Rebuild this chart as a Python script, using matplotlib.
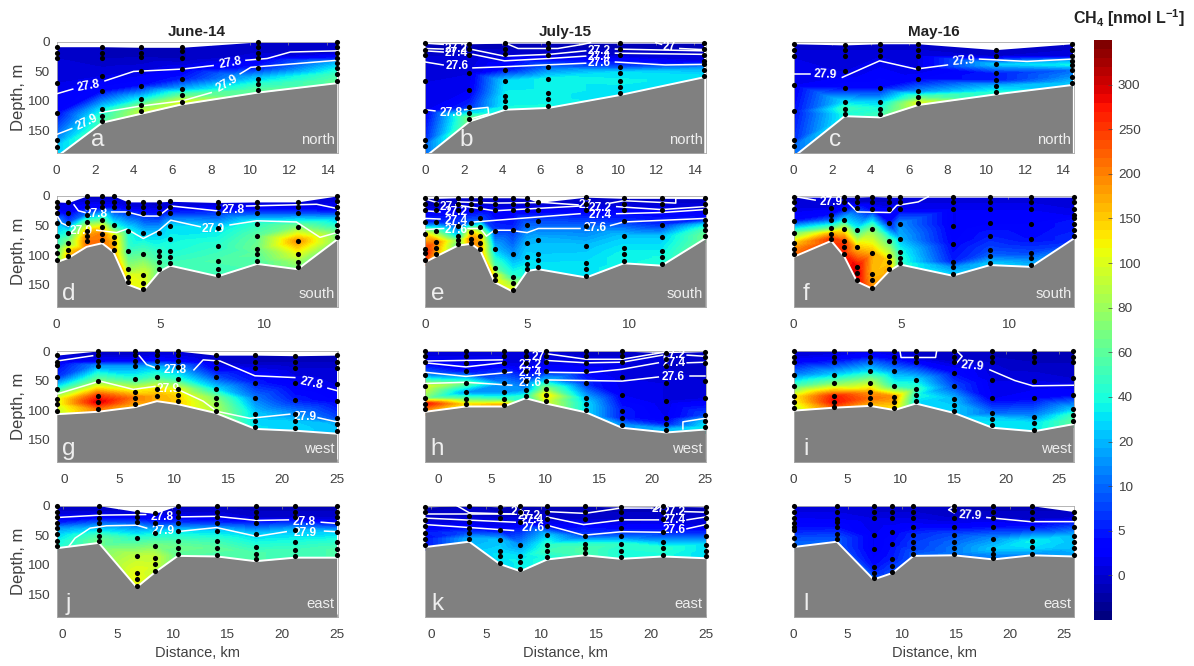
import matplotlib

matplotlib.use("Agg")
import matplotlib.pyplot as plt
import matplotlib.tri as mtri
import numpy as np

plt.rcParams["font.family"] = ["Liberation Sans", "DejaVu Sans"]
plt.rcParams["mathtext.fontset"] = "custom"
plt.rcParams["mathtext.bf"] = "Liberation Sans:bold"
plt.rcParams["mathtext.rm"] = "Liberation Sans"

W, H = 1194, 666
TXT = "#404040"

# colourbar ticks are evenly spaced on a stretched scale
CBAR_TICKS = [-5, 0, 5, 10, 20, 40, 60, 80, 100, 150, 200, 250, 300, 350]
CBAR_LABELS = ["", "0", "5", "10", "20", "40", "60", "80", "100", "150", "200", "250", "300", ""]

MONTHS = ["June-14", "July-15", "May-16"]
SECTIONS = ["north", "south", "west", "east"]

# --- a
A_X = [0, 2.36, 4.36, 6.47, 10.4, 14.5]
A_BOTTOM = [195, 137, 122, 106, 86, 70]
A_DEPTH = [
    [8, 18, 27, 70, 120, 167, 178],
    [8, 18, 27, 57, 84, 113, 125, 135],
    [9, 18, 26, 50, 74, 97, 107, 118],
    [9, 16, 28, 46, 63, 79, 90, 102],
    [0, 8, 18, 27, 44, 62, 72, 82],
    [0, 8, 18, 28, 36, 45, 55, 66],
]
A_CH4 = [
    [0, 0, 0, 1, 3, 15, 25],
    [-1, -1, -1, 1, 4, 30, 45, 55],
    [-1, -1, -1, 1, 4, 35, 65, 90],
    [-1, -1, -1, 2, 5, 18, 60, 100],
    [0, 0, 0, 1, 5, 25, 45, 60],
    [0, 0, 0, 5, 20, 35, 50, 60],
]
A_ISO = [
    ([0, 0.83], [88, 80]),
    ([2.5, 3.98, 6.5, 8.1], [66, 50, 46, 40]),
    ([9.8, 10.9, 12.1, 14.55], [31, 28, 17, 15]),
    ([0, 0.78], [157, 147]),
    ([2.25, 4.3, 6.5, 8.0], [120, 109, 100, 86]),
    ([9.5, 10.05, 14.55], [54, 43, 31]),
]
A_LABELS = [("27.8", 1.66, 74, 10), ("27.8", 9.0, 36, 10), ("27.9", 1.55, 136, 25), ("27.9", 8.85, 70, 30)]

# --- b
B_X = [0, 2.3, 4.17, 6.4, 10.15, 14.5]
B_BOTTOM = [195, 135, 115, 112, 90, 60]
B_DEPTH = [
    [2, 14, 22, 67, 117, 166, 176],
    [3, 12, 22, 53, 81, 111, 120, 130],
    [2, 12, 21, 47, 67, 91, 101, 111],
    [2, 11, 22, 43, 62, 87, 97, 108],
    [2, 12, 22, 42, 52, 67, 77, 87],
    [2, 12, 22, 32, 38, 47, 57],
]
B_CH4 = [
    [-1, -1, 0, 1, 2, 6, 10],
    [-1, -1, 0, 1, 2, 6, 30, 70],
    [-1, -1, 0, 4, 30, 35, 35, 38],
    [-1, -1, 0, 10, 35, 35, 35, 38],
    [-1, -1, 0, 8, 30, 35, 32, 30],
    [-1, -1, 0, 1, 8, 20, 30],
]
B_ISO = [
    ([0, 0.93], [2, 4]),
    ([2.48, 4.1, 4.83, 6.9, 8.2, 8.6], [1, 1, 11, 11, 4, 1]),
    ([12, 12.3], [1, 4]),
    ([13.25, 14.5], [11, 13]),
    ([0, 0.93], [11, 12]),
    ([2.48, 4.12, 6.45, 8.35], [13, 24, 21, 15]),
    ([9.9, 14.5], [12, 15]),
    ([0, 0.93], [15, 17]),
    ([2.48, 4.12, 6.45, 8.35], [21, 32, 28, 24]),
    ([9.9, 14.5], [19, 21]),
    ([0, 0.93], [34, 39]),
    ([2.48, 4.12, 8.35], [44, 42, 36]),
    ([9.9, 12.5, 14.5], [34, 39, 38]),
    ([0, 0.5], [115, 117]),
    ([2.05, 3.26, 3.3, 2.4], [115, 111, 122, 130]),
]
B_LABELS = [
    ("27.2", 1.6, 12, 0), ("27.4", 1.62, 19, 0), ("27.6", 1.66, 40, 0), ("27.8", 1.35, 120, 0),
    ("27.2", 9.03, 15, 0), ("27.4", 9.03, 25, 0), ("27.6", 9.07, 36, 0), ("27", 12.7, 8, 0),
]

# --- c
C_X = [0, 2.65, 4.48, 6.48, 10.5, 14.5]
C_BOTTOM = [195, 126, 128, 107, 89, 73]
C_DEPTH = [
    [3, 13, 24, 73, 118, 167, 177],
    [5, 13, 24, 49, 78, 102, 113, 123],
    [3, 13, 24, 78, 102, 113, 123],
    [3, 13, 24, 44, 63, 84, 94, 103],
    [13, 24, 38, 53, 65, 75, 85],
    [3, 13, 24, 33, 39, 48, 59, 70],
]
C_CH4 = [
    [0, 0, 1, 2, 4, 6, 10],
    [0, 0, 1, 1, 4, 30, 50, 40],
    [0, 0, 1, 4, 25, 40, 50],
    [0, 0, 1, 1, 3, 15, 60, 100],
    [0, 0, 25, 5, 5, 20, 40],
    [0, 0, 1, 20, 35, 10, 15, 25],
]
C_ISO = [
    ([0, 0.84], [54, 54]),
    ([2.53, 4.47, 6.36, 8.0], [60, 32, 46, 39]),
    ([9.67, 12.14, 14.5], [29, 33, 29]),
]
C_LABELS = [("27.9", 1.67, 56, -3), ("27.9", 8.86, 33, 5)]

# --- d
D_X = [0, 0.56, 1.45, 2.2, 2.75, 3.45, 4.2, 4.97, 5.5, 7.8, 9.7, 11.66, 13.56]
D_BOTTOM = [112, 105, 86, 80, 95, 150, 160, 128, 118, 136, 115, 124, 74]
D_DEPTH = [
    [10, 19, 28, 45, 67, 85, 97, 108],
    [11, 28, 45, 63, 79, 92, 102],
    [0, 10, 19, 32, 44, 59, 68, 77],
    [0, 10, 19, 41, 53, 64, 75],
    [0, 10, 19, 49, 69, 79, 92],
    [10, 19, 28, 60, 93, 124, 137, 146],
    [10, 19, 28, 63, 99, 134, 147, 158],
    [10, 19, 28, 63, 93, 102, 112, 124],
    [9, 19, 29, 51, 72, 93, 104, 113],
    [11, 19, 28, 55, 84, 110, 123, 134],
    [10, 19, 29, 47, 68, 89, 98, 110],
    [10, 19, 29, 52, 76, 99, 111, 121],
    [0, 9, 19, 28, 38, 49, 59, 70],
]
D_CH4 = [
    [0, 1, 3, 18, 35, 50, 60, 65],
    [1, 2, 8, 40, 70, 130, 160],
    [-1, 1, 3, 12, 60, 150, 190, 210],
    [-1, 1, 3, 60, 130, 200, 210],
    [-1, 1, 4, 40, 130, 170, 180],
    [0, 1, 6, 40, 50, 80, 110, 120],
    [0, 1, 4, 25, 60, 100, 105, 110],
    [0, 0, 3, 25, 45, 50, 55, 60],
    [0, 1, 6, 30, 35, 40, 45, 50],
    [0, 2, 6, 30, 45, 55, 50, 50],
    [0, 2, 8, 45, 60, 65, 60, 55],
    [0, 2, 8, 70, 190, 100, 80, 70],
    [0, 1, 2, 6, 20, 40, 60, 70],
]
D_ISO = [
    ([0.84, 1.05, 1.37], [15, 25, 28]),
    ([2.66, 3.39, 4.19, 4.92, 5.56, 7.74], [27, 27, 34, 34, 17, 25]),
    ([9.19, 12.58, 13.56], [17, 14, 21]),
    ([0, 0.24, 0.56], [32, 46, 51]),
    ([1.94, 2.9, 3.39, 4.19, 4.92, 5.52, 6.94], [58, 62, 56, 72, 59, 41, 52]),
    ([8.39, 9.68, 11.6, 12.74, 13.56], [49, 42, 44, 70, 62]),
]
D_LABELS = [("27.8", 1.89, 30, 0), ("27.8", 8.55, 24, 0), ("27.9", 1.19, 59, 0), ("27.9", 7.58, 56, 0)]

# --- e
E_X = [0, 0.55, 1.6, 2.25, 2.7, 3.4, 4.3, 5, 5.55, 7.9, 9.75, 11.6, 13.75]
E_BOTTOM = [112, 102, 84, 81, 92, 146, 162, 127, 124, 138, 114, 118, 72]
E_DEPTH = [
    [4, 13, 24, 44, 64, 89, 96, 109],
    [4, 13, 24, 44, 59, 78, 88, 99],
    [3, 13, 24, 51, 68, 75, 82],
    [3, 13, 24, 45, 61, 72, 79],
    [3, 11, 21, 38, 52, 68, 79, 89],
    [3, 13, 24, 59, 89, 122, 134, 143],
    [3, 13, 24, 57, 99, 137, 148, 159],
    [4, 13, 24, 49, 79, 103, 115, 124],
    [11, 24, 42, 74, 98, 108, 121],
    [2, 13, 24, 51, 84, 113, 123, 136],
    [4, 13, 24, 42, 68, 88, 99, 110],
    [4, 13, 24, 49, 69, 93, 104, 115],
    [4, 13, 24, 27, 40, 49, 58, 68],
]
E_CH4 = [
    [-1, -1, 2, 5, 120, 250, 280, 240],
    [-1, -1, 2, 6, 60, 200, 180, 160],
    [-1, 0, 2, 8, 30, 70, 60],
    [-1, 0, 2, 10, 130, 200, 200],
    [-1, 0, 2, 8, 50, 140, 170, 180],
    [-1, 0, 2, 7, 22, 60, 110, 130],
    [-1, 0, 2, 6, 15, 45, 80, 110],
    [-1, 0, 2, 10, 20, 28, 32, 34],
    [0, 2, 8, 20, 25, 28, 32],
    [-1, 0, 2, 10, 22, 30, 32, 32],
    [-1, 0, 2, 6, 24, 32, 36, 36],
    [-1, 0, 2, 6, 24, 34, 38, 40],
    [-1, 0, 1, 2, 5, 30, 55, 65],
]
E_ISO = [
    ([0, 0.64], [5, 12]),
    ([1.6, 3.5, 5.8, 7.5], [10, 12, 11, 15]),
    ([9.1, 9.75, 12.3, 12.3, 13.75], [12, 8, 12, 4, 4]),
    ([0, 0.72], [25, 27]),
    ([1.5, 3.4, 7.6], [15, 25, 17]),
    ([9.4, 11.6, 13.75], [18, 23, 18]),
    ([0, 0.72], [38, 39]),
    ([2.4, 7.6], [44, 30]),
    ([9.4, 11.6, 13.75], [30, 28, 23]),
    ([0, 0.9], [57, 55]),
    ([2.1, 2.7, 3.0, 3.4, 4.16, 5, 5.55, 7.6], [55, 55, 68, 58, 58, 62, 55, 55]),
    ([9.1, 9.75, 13.75], [50, 44, 38]),
]
E_LABELS = [
    ("27", 1.05, 18, 0), ("27.2", 1.5, 27, 0), ("27.4", 1.5, 42, 0), ("27.6", 1.5, 58, 0),
    ("27", 7.85, 16, 0), ("27.2", 8.6, 20, 0), ("27.4", 8.6, 33, 0), ("27.6", 8.35, 54, 0),
]

# --- f
F_X = [0, 1.75, 2.35, 2.95, 3.66, 4.45, 4.95, 7.4, 9.15, 11.05, 13.05]
F_BOTTOM = [103, 76, 102, 145, 157, 127, 116, 135, 117, 120, 72]
F_SURFACE = [2, 2, 2, 2, 1, 2, 2, 2, 2, 2, 2]
F_DEPTH = [
    [2, 11, 22, 42, 62, 80, 89, 99],
    [20, 32, 41, 54, 64, 73],
    [2, 11, 22, 41, 56, 77, 87, 99],
    [2, 11, 20, 57, 87, 120, 131, 142],
    [1, 11, 22, 56, 97, 132, 142, 155],
    [2, 11, 22, 46, 77, 102, 112, 124],
    [2, 11, 22, 47, 72, 94, 105, 113],
    [2, 11, 22, 50, 81, 111, 121, 132],
    [2, 11, 22, 46, 67, 92, 102, 114],
    [2, 11, 22, 47, 73, 97, 105, 117],
    [2, 11, 22, 32, 38, 47, 58, 67],
]
F_CH4 = [
    [-1, 0, 1, 4, 60, 150, 190, 210],
    [1, 4, 10, 60, 170, 250],
    [0, 0, 3, 30, 100, 240, 260, 260],
    [0, 0, 6, 40, 150, 290, 300, 290],
    [0, 0, 3, 70, 170, 160, 170, 190],
    [0, 0, 2, 4, 60, 100, 150, 170],
    [0, 1, 2, 15, 20, 40, 45, 45],
    [0, 1, 2, 2, 3, 5, 15, 25],
    [0, 1, 2, 3, 5, 8, 10, 25],
    [0, 1, 2, 3, 4, 8, 12, 20],
    [0, 0, 1, 2, 4, 5, 5, 6],
]
F_ISO = [
    ([0.22, 1.0], [2, 7]),
    ([2.55, 2.97, 4.49, 4.8, 5.8, 6.27], [12, 27, 28, 16, 10, 1]),
]
F_LABELS = [("27.9", 1.74, 10, 0)]

# --- g
G_X = [-0.7, 3.05, 6.5, 8.5, 10.4, 13.9, 17.55, 21.2, 25]
G_BOTTOM = [107, 103, 95, 85, 90, 105, 132, 135, 140]
G_DEPTH = [
    [7, 19, 24, 44, 64, 81, 90, 102],
    [0, 7, 17, 25, 51, 76, 86, 98],
    [0, 7, 17, 25, 48, 69, 79, 90],
    [0, 7, 17, 27, 44, 65, 76],
    [0, 7, 17, 27, 48, 65, 75, 85],
    [7, 19, 28, 44, 64, 79, 89, 101],
    [7, 19, 28, 54, 80, 106, 118, 128],
    [8, 19, 28, 55, 83, 107, 119, 131],
    [7, 19, 28, 56, 85, 114, 124, 136],
]
G_CH4 = [
    [0, 1, 3, 6, 40, 100, 100, 90],
    [0, 0, 2, 15, 70, 250, 300, 210],
    [-1, 0, 3, 15, 45, 130, 200, 170],
    [0, 1, 4, 20, 50, 130, 170],
    [0, 1, 3, 15, 45, 110, 140, 150],
    [-1, 0, 2, 8, 30, 70, 80, 85],
    [-1, -1, 1, 5, 12, 25, 28, 30],
    [-1, -1, 0, 2, 5, 15, 25, 28],
    [-1, -1, 0, 1, 3, 8, 20, 22],
]
G_ISO = [
    ([-0.7, 2.6], [17, 8]),
    ([6.88, 7.55, 8.62], [8, 23, 30]),
    ([11.9, 12.75, 14.3, 17.5, 21.16], [32, 15, 17, 42, 45]),
    ([24.2, 25], [63, 67]),
    ([-0.7, 3.27, 6.33, 8.32], [73, 51, 65, 60]),
    ([10.76, 12.75, 13.97, 17.03, 20.7], [68, 85, 102, 114, 107]),
    ([23.3, 25], [113, 120]),
]
G_LABELS = [("27.8", 10.15, 32, 0), ("27.8", 22.7, 55, -12), ("27.9", 9.5, 64, 0), ("27.9", 22.1, 112, 0)]

# --- h
H_X = [-1.2, 2.6, 6.15, 8.2, 10.1, 13.85, 17.2, 21.35, 25]
H_BOTTOM = [103, 94, 94, 80, 89, 104, 130, 138, 133]
H_DEPTH = [
    [0, 9, 19, 40, 60, 80, 89, 99],
    [0, 9, 20, 34, 55, 70, 81, 90],
    [0, 9, 20, 34, 55, 70, 81, 91],
    [0, 9, 20, 34, 50, 66, 76],
    [0, 9, 19, 34, 50, 65, 75, 85],
    [0, 9, 20, 34, 55, 80, 89, 100],
    [0, 9, 19, 44, 74, 101, 114, 125],
    [3, 13, 26, 54, 85, 114, 124, 133],
    [1, 11, 20, 51, 80, 109, 119, 129],
]
H_CH4 = [
    [0, 1, 2, 12, 100, 70, 280, 200],
    [0, 1, 2, 4, 60, 15, 60, 130],
    [0, 1, 1, 6, 15, 15, 50, 170],
    [0, 1, 1, 3, 8, 15, 40],
    [0, 1, 1, 4, 25, 80, 140, 100],
    [0, 0, 1, 3, 6, 20, 30, 30],
    [0, 0, 1, 1, 2, 5, 5, 15],
    [0, 0, 0, 1, 1, 2, 5, 20],
    [0, 0, 0, 0, 1, 8, 25, 35],
]
H_ISO = [
    ([-1.2, 6], [17, 15]),
    ([10.3, 13.85, 17.2, 21.2], [5, 14, 14, 2]),
    ([-1.2, 2.6, 6], [20, 27, 20]),
    ([10.1, 13.85, 17.2, 21.0], [16, 20, 19, 7]),
    ([23.3, 25], [7, 9]),
    ([-1.2, 2.6, 6.9], [36, 43, 36]),
    ([10.1, 13.85, 17.2, 20.6], [36, 37, 31, 20]),
    ([23.3, 25], [20, 19]),
    ([-1.2, 2.6, 6.9], [55, 53, 58]),
    ([10.1, 17.2, 20.6], [49, 51, 44]),
    ([23.6, 25], [42, 42]),
    ([22.9, 22.9, 25], [132, 120, 114]),
]
H_LABELS = [
    ("27", 9.4, 11, 0), ("27.2", 8.65, 23, 0), ("27.4", 8.65, 37, 0), ("27.6", 8.65, 54, 0),
    ("27.2", 22.1, 6, 0), ("27.4", 22.1, 21, 0), ("27.6", 22.0, 44, 0),
]

# --- i
I_X = [0, 3.8, 7.18, 9.47, 11.5, 15.1, 18.7, 22.6, 26.3]
I_BOTTOM = [101, 96, 93, 100, 89, 105, 130, 136, 124]
I_DEPTH = [
    [0, 10, 19, 40, 60, 77, 86, 97],
    [0, 10, 19, 40, 55, 77, 86, 95],
    [0, 10, 19, 34, 55, 70, 80, 89],
    [0, 10, 19, 34, 59, 78, 86, 97],
    [0, 10, 19, 49, 65, 74, 85],
    [0, 10, 19, 38, 60, 81, 92, 101],
    [0, 10, 19, 49, 80, 105, 115, 126],
    [0, 10, 19, 50, 80, 111, 122, 133],
    [0, 10, 19, 46, 74, 99, 109, 119],
]
I_CH4 = [
    [0, 1, 3, 12, 55, 120, 110, 90],
    [0, 2, 5, 25, 70, 270, 280, 230],
    [1, 4, 10, 30, 90, 180, 210, 170],
    [0, 2, 6, 15, 45, 190, 170, 130],
    [0, 0, 3, 30, 50, 40, 30],
    [0, 0, 0, 4, 8, 20, 25, 25],
    [-1, -1, 0, 1, 2, 10, 28, 32],
    [-1, -1, -1, 1, 3, 15, 30, 32],
    [-1, -1, -1, 0, 3, 25, 50, 60],
]
I_ISO = [
    ([10, 10.1, 13.35, 13.45], [0, 11, 11, 0]),
    ([15.4, 15.85, 15.3], [1, 9, 21]),
    ([18.46, 20.8, 22.5, 26.4], [32, 50, 59, 58]),
]
I_LABELS = [("27.9", 16.85, 26, -5)]

# --- j
J_X = [-0.55, 3.3, 6.75, 8.4, 10.5, 14.1, 17.6, 21.2, 25]
J_BOTTOM = [72, 63, 138, 113, 85, 86, 94, 88, 88]
J_DEPTH = [
    [0, 10, 19, 29, 38, 48, 60, 69],
    [0, 10, 20, 30, 41, 51, 59],
    [10, 19, 28, 55, 85, 114, 124, 136],
    [13, 29, 47, 68, 89, 99, 110],
    [0, 10, 19, 29, 43, 60, 71, 82],
    [0, 10, 19, 29, 43, 60, 72, 84],
    [0, 10, 19, 29, 48, 70, 81, 91],
    [0, 10, 19, 41, 61, 75, 85],
    [0, 10, 19, 29, 45, 62, 74, 84],
]
J_CH4 = [
    [-1, 0, 2, 5, 15, 25, 35, 40],
    [-1, 0, 3, 10, 30, 55, 65],
    [0, 2, 8, 45, 90, 110, 115, 110],
    [1, 6, 35, 70, 95, 95, 90],
    [-1, 0, 2, 7, 30, 55, 65, 60],
    [-1, 0, 1, 6, 28, 50, 60, 55],
    [-1, -1, 0, 5, 25, 45, 55, 55],
    [-1, -1, 0, 20, 40, 50, 50],
    [-1, -1, 0, 3, 25, 45, 55, 55],
]
J_ISO = [
    ([-0.55, 3.4, 7.57], [20, 16, 15]),
    ([10.55, 14.04, 17.7, 20.6], [19, 18, 25, 24]),
    ([23.6, 25], [28, 30]),
    ([0.6, 1.12, 2.5, 4, 6.75, 7.66], [68, 55, 38, 34, 33, 38]),
    ([10.4, 14.04, 17.7, 20.4], [44, 37, 52, 44]),
    ([23.9, 25], [43, 44]),
]
J_LABELS = [("27.8", 9.1, 19, 0), ("27.8", 22.0, 27, 0), ("27.9", 9.18, 43, 0), ("27.9", 22.15, 46, 0)]

# --- k
K_X = [-0.5, 3.5, 6.3, 8.15, 10.6, 14, 17.3, 21.1, 25]
K_BOTTOM = [70, 61, 99, 111, 91, 84, 90, 86, 89]
K_DEPTH = [
    [2, 11, 25, 35, 46, 56, 67],
    [0, 18, 28, 38, 46, 57],
    [2, 10, 21, 41, 58, 76, 86, 97],
    [0, 11, 27, 66, 86, 96, 108],
    [1, 11, 23, 35, 50, 66, 76, 87],
    [1, 11, 23, 51, 65, 72, 80],
    [2, 11, 23, 37, 52, 65, 76, 87],
    [1, 10, 22, 44, 62, 72, 83],
    [2, 11, 21, 35, 51, 66, 77, 86],
]
K_CH4 = [
    [-1, -1, 0, 2, 5, 4, 4],
    [-1, 0, 1, 4, 8, 20],
    [-1, -1, 0, 3, 22, 28, 32, 30],
    [-1, -1, 1, 15, 30, 35, 35],
    [-1, -1, 0, 3, 25, 45, 50, 40],
    [-1, -1, 0, 8, 45, 55, 55],
    [-1, -1, 0, 3, 10, 45, 40, 40],
    [-1, -1, 0, 5, 20, 45, 40],
    [-1, -1, 0, 1, 8, 30, 30, 30],
]
K_ISO = [
    ([2.37, 3.5, 7.2], [0, 12, 14]),
    ([20.4, 21], [7, 0]),
    ([-0.5, 7.6], [14, 14]),
    ([10.55, 14, 17.3, 20.2], [10, 13, 4, 4]),
    ([23.1, 25], [10, 11]),
    ([-0.5, 7.68], [21, 28]),
    ([10.55, 13.9, 17.4, 20.7], [19, 32, 24, 24]),
    ([23.3, 25], [24, 19]),
    ([-0.5, 7.52], [32, 42]),
    ([10.55, 13.9, 17.4, 20.9], [33, 50, 44, 45]),
    ([23.3, 25], [39, 32]),
]
K_LABELS = [
    ("27", 7.9, 10, 0), ("27.2", 8.98, 18, 0), ("27.4", 9.2, 25, 0), ("27.6", 9.3, 38, 0),
    ("27", 20.7, 5, 0), ("27.2", 22.1, 11, 0), ("27.4", 22.1, 25, 0), ("27.6", 22.15, 42, 0),
]

# --- l
L_X = [0, 4, 7.4, 9.15, 11.1, 14.85, 18.5, 22.05, 26]
L_BOTTOM = [70, 61, 125, 114, 85, 84, 91, 84, 86]
L_DEPTH = [
    [0, 10, 20, 30, 36, 42, 54, 66],
    [0, 10, 23, 28, 36, 48, 57],
    [0, 10, 21, 50, 74, 103, 114, 123],
    [0, 10, 21, 45, 65, 90, 102, 112],
    [0, 10, 21, 36, 49, 62, 72, 82],
    [0, 8, 21, 36, 49, 62, 72, 81],
    [0, 10, 20, 36, 56, 73, 82, 89],
    [0, 10, 23, 38, 60, 70, 82],
    [10, 20, 36, 51, 62, 72, 83],
]
L_CH4 = [
    [0, 1, 2, 3, 4, 5, 8, 10],
    [0, 1, 2, 3, 4, 7, 9],
    [0, 0, 1, 2, 2, 4, 6, 10],
    [0, 0, 1, 3, 4, 5, 7, 8],
    [0, 0, 1, 3, 6, 7, 7, 9],
    [-1, -1, 0, 3, 8, 10, 12, 12],
    [-1, -1, 0, 4, 15, 25, 15, 12],
    [-1, -1, 0, 5, 35, 30, 15],
    [-1, 0, 8, 20, 22, 20, 18],
]
L_ISO = [
    ([14.9, 14.35, 14.86], [0, 7, 12]),
    ([17.9, 21.9, 26], [20, 27, 27]),
]
L_LABELS = [("27.9", 16.35, 16, -3)]

# axes layout, pixels
COL_LEFT = [56.7, 425.3, 793.7]
COL_RIGHT = [337.7, 705.7, 1074.3]
ROW_TOP = [42, 196, 351, 505.7]
ROW_BOTTOM = [152.7, 307, 462, 616.7]
YMAX = 188

PANELS = [
    ("a", 0, 0, (0, 14.55), 2, A_X, A_BOTTOM, A_DEPTH, A_CH4, A_ISO, A_LABELS),
    ("b", 0, 1, (0, 14.6), 2, B_X, B_BOTTOM, B_DEPTH, B_CH4, B_ISO, B_LABELS),
    ("c", 0, 2, (0, 14.6), 2, C_X, C_BOTTOM, C_DEPTH, C_CH4, C_ISO, C_LABELS),
    ("d", 1, 0, (0, 13.6), 5, D_X, D_BOTTOM, D_DEPTH, D_CH4, D_ISO, D_LABELS),
    ("e", 1, 1, (0, 13.77), 5, E_X, E_BOTTOM, E_DEPTH, E_CH4, E_ISO, E_LABELS),
    ("f", 1, 2, (0, 13.07), 5, F_X, F_BOTTOM, F_DEPTH, F_CH4, F_ISO, F_LABELS),
    ("g", 2, 0, (-0.7, 25.1), 5, G_X, G_BOTTOM, G_DEPTH, G_CH4, G_ISO, G_LABELS),
    ("h", 2, 1, (-1.18, 25.03), 5, H_X, H_BOTTOM, H_DEPTH, H_CH4, H_ISO, H_LABELS),
    ("i", 2, 2, (0, 26.4), 5, I_X, I_BOTTOM, I_DEPTH, I_CH4, I_ISO, I_LABELS),
    ("j", 3, 0, (-0.55, 25.1), 5, J_X, J_BOTTOM, J_DEPTH, J_CH4, J_ISO, J_LABELS),
    ("k", 3, 1, (-0.5, 25.0), 5, K_X, K_BOTTOM, K_DEPTH, K_CH4, K_ISO, K_LABELS),
    ("l", 3, 2, (0, 26.0), 5, L_X, L_BOTTOM, L_DEPTH, L_CH4, L_ISO, L_LABELS),
]

# stations whose colour reaches above the first bottle
SURFACE = {"f": F_SURFACE}


def px_axes(fig, left, top, right, bottom):
    return fig.add_axes([left / W, 1 - bottom / H, (right - left) / W, (bottom - top) / H])


def scale_pos(values):
    # position on the stretched colourbar scale
    return np.interp(values, CBAR_TICKS, np.arange(len(CBAR_TICKS)))


fig = plt.figure(figsize=(W / 100, H / 100), dpi=100)
cmap = plt.get_cmap("jet", 64)
levels = np.linspace(0, len(CBAR_TICKS) - 1, 65)

for letter, row, col, xlim, step, st_x, bottom, depths, ch4, iso, iso_labels in PANELS:
    ax = px_axes(fig, COL_LEFT[col], ROW_TOP[row], COL_RIGHT[col], ROW_BOTTOM[row])
    px_km = (COL_RIGHT[col] - COL_LEFT[col]) / (xlim[1] - xlim[0])
    px_m = (ROW_BOTTOM[row] - ROW_TOP[row]) / YMAX
    tops = SURFACE.get(letter, [d[0] for d in depths])

    xs, ds, vs = [], [], []
    for x0, top, bot, dep, val in zip(st_x, tops, bottom, depths, ch4):
        # first sample is carried up to the surface, last one down to the sea floor
        col_d = list(dep) + [bot + 6]
        col_v = list(val) + [val[-1]]
        if top < dep[0]:
            col_d = [top] + col_d
            col_v = [val[0]] + col_v
        xs += [x0] * len(col_d)
        ds += col_d
        vs += col_v
    xs, ds, vs = np.array(xs, float), np.array(ds, float), np.array(vs, float)

    # triangulate in pixel space, km and m are on very different scales
    tri = mtri.Triangulation(xs * px_km, ds * px_m)
    tri = mtri.Triangulation(xs, ds, triangles=tri.triangles)
    ax.tricontourf(tri, scale_pos(vs), levels=levels, cmap=cmap, extend="both")

    ax.fill_between(st_x, tops, -5, color="white", lw=0, zorder=2)
    ax.fill_between(st_x, bottom, YMAX + 10, color="#808080", lw=0, zorder=2)
    ax.plot(st_x, bottom, color="white", lw=1.4, zorder=3)

    for seg_x, seg_d in iso:
        ax.plot(seg_x, seg_d, color="white", lw=1.1, zorder=4)
    for text, tx, td, rot in iso_labels:
        ax.text(tx, td, text, color="white", fontsize=8.6, fontweight="bold", ha="center", va="center",
                rotation=rot, zorder=5)

    for x0, dep in zip(st_x, depths):
        ax.plot([x0] * len(dep), dep, "o", color="black", ms=3.7, mew=0, clip_on=False, zorder=6)

    ax.set_xlim(xlim)
    ax.set_ylim(YMAX, 0)
    ticks = np.arange(0, xlim[1] + 0.01, step)
    ax.set_xticks(ticks)
    ax.tick_params(axis="x", direction="in", top=True, length=2, width=0.5, color="#888888",
                   labelsize=9.7, labelcolor=TXT, pad=8.5)
    ax.set_yticks([0, 50, 100, 150])
    ax.tick_params(axis="y", length=0, labelsize=9.7, labelcolor=TXT, pad=5)
    if col > 0:
        ax.tick_params(axis="y", labelleft=False)
    else:
        ax.set_ylabel("Depth, m", fontsize=12, color=TXT, labelpad=1)
    for s in ax.spines.values():
        s.set_color("#aaaaaa")
        s.set_linewidth(0.6)

    if row == 0:
        ax.set_title(MONTHS[col], fontsize=11, fontweight="bold", color="#222222", pad=4)
    if row == 3:
        ax.set_xlabel("Distance, km", fontsize=10.5, color=TXT, labelpad=4)

    offset = 41 if row == 0 else 12
    ax.annotate(letter, (0, 0), xycoords="axes fraction", xytext=(offset * 0.72, 5), textcoords="offset points",
                color="#eeeeee", fontsize=17.5, ha="center", va="baseline", zorder=7)
    ax.annotate(SECTIONS[row], (1, 0), xycoords="axes fraction", xytext=(-2, 6.5), textcoords="offset points",
                color="#eeeeee", fontsize=10.7, ha="right", va="baseline", zorder=7)

# colourbar
cax = px_axes(fig, 1094.3, 40, 1112.3, 620)
edges = np.linspace(0, len(CBAR_TICKS) - 1, 65)
cax.pcolormesh([0, 1], edges, ((edges[:-1] + edges[1:]) / 2)[:, None], cmap=cmap,
               vmin=0, vmax=len(CBAR_TICKS) - 1)
cax.set_xticks([])
cax.yaxis.tick_right()
cax.set_yticks(np.arange(1, len(CBAR_TICKS) - 1))
cax.set_yticklabels(CBAR_LABELS[1:-1])
cax.tick_params(axis="y", direction="in", length=3, width=0.5, color="#444444",
                labelsize=9.7, labelcolor=TXT, pad=4)
for s in cax.spines.values():
    s.set_visible(False)

fig.text(1129 / W, 1 - 24 / H, r"CH$_{\mathbf{4}}$ [nmol L$^{\mathbf{-1}}$]", fontsize=11.5,
         fontweight="bold", color="#222222", ha="center", va="baseline")

fig.savefig("out.png", dpi=100)
